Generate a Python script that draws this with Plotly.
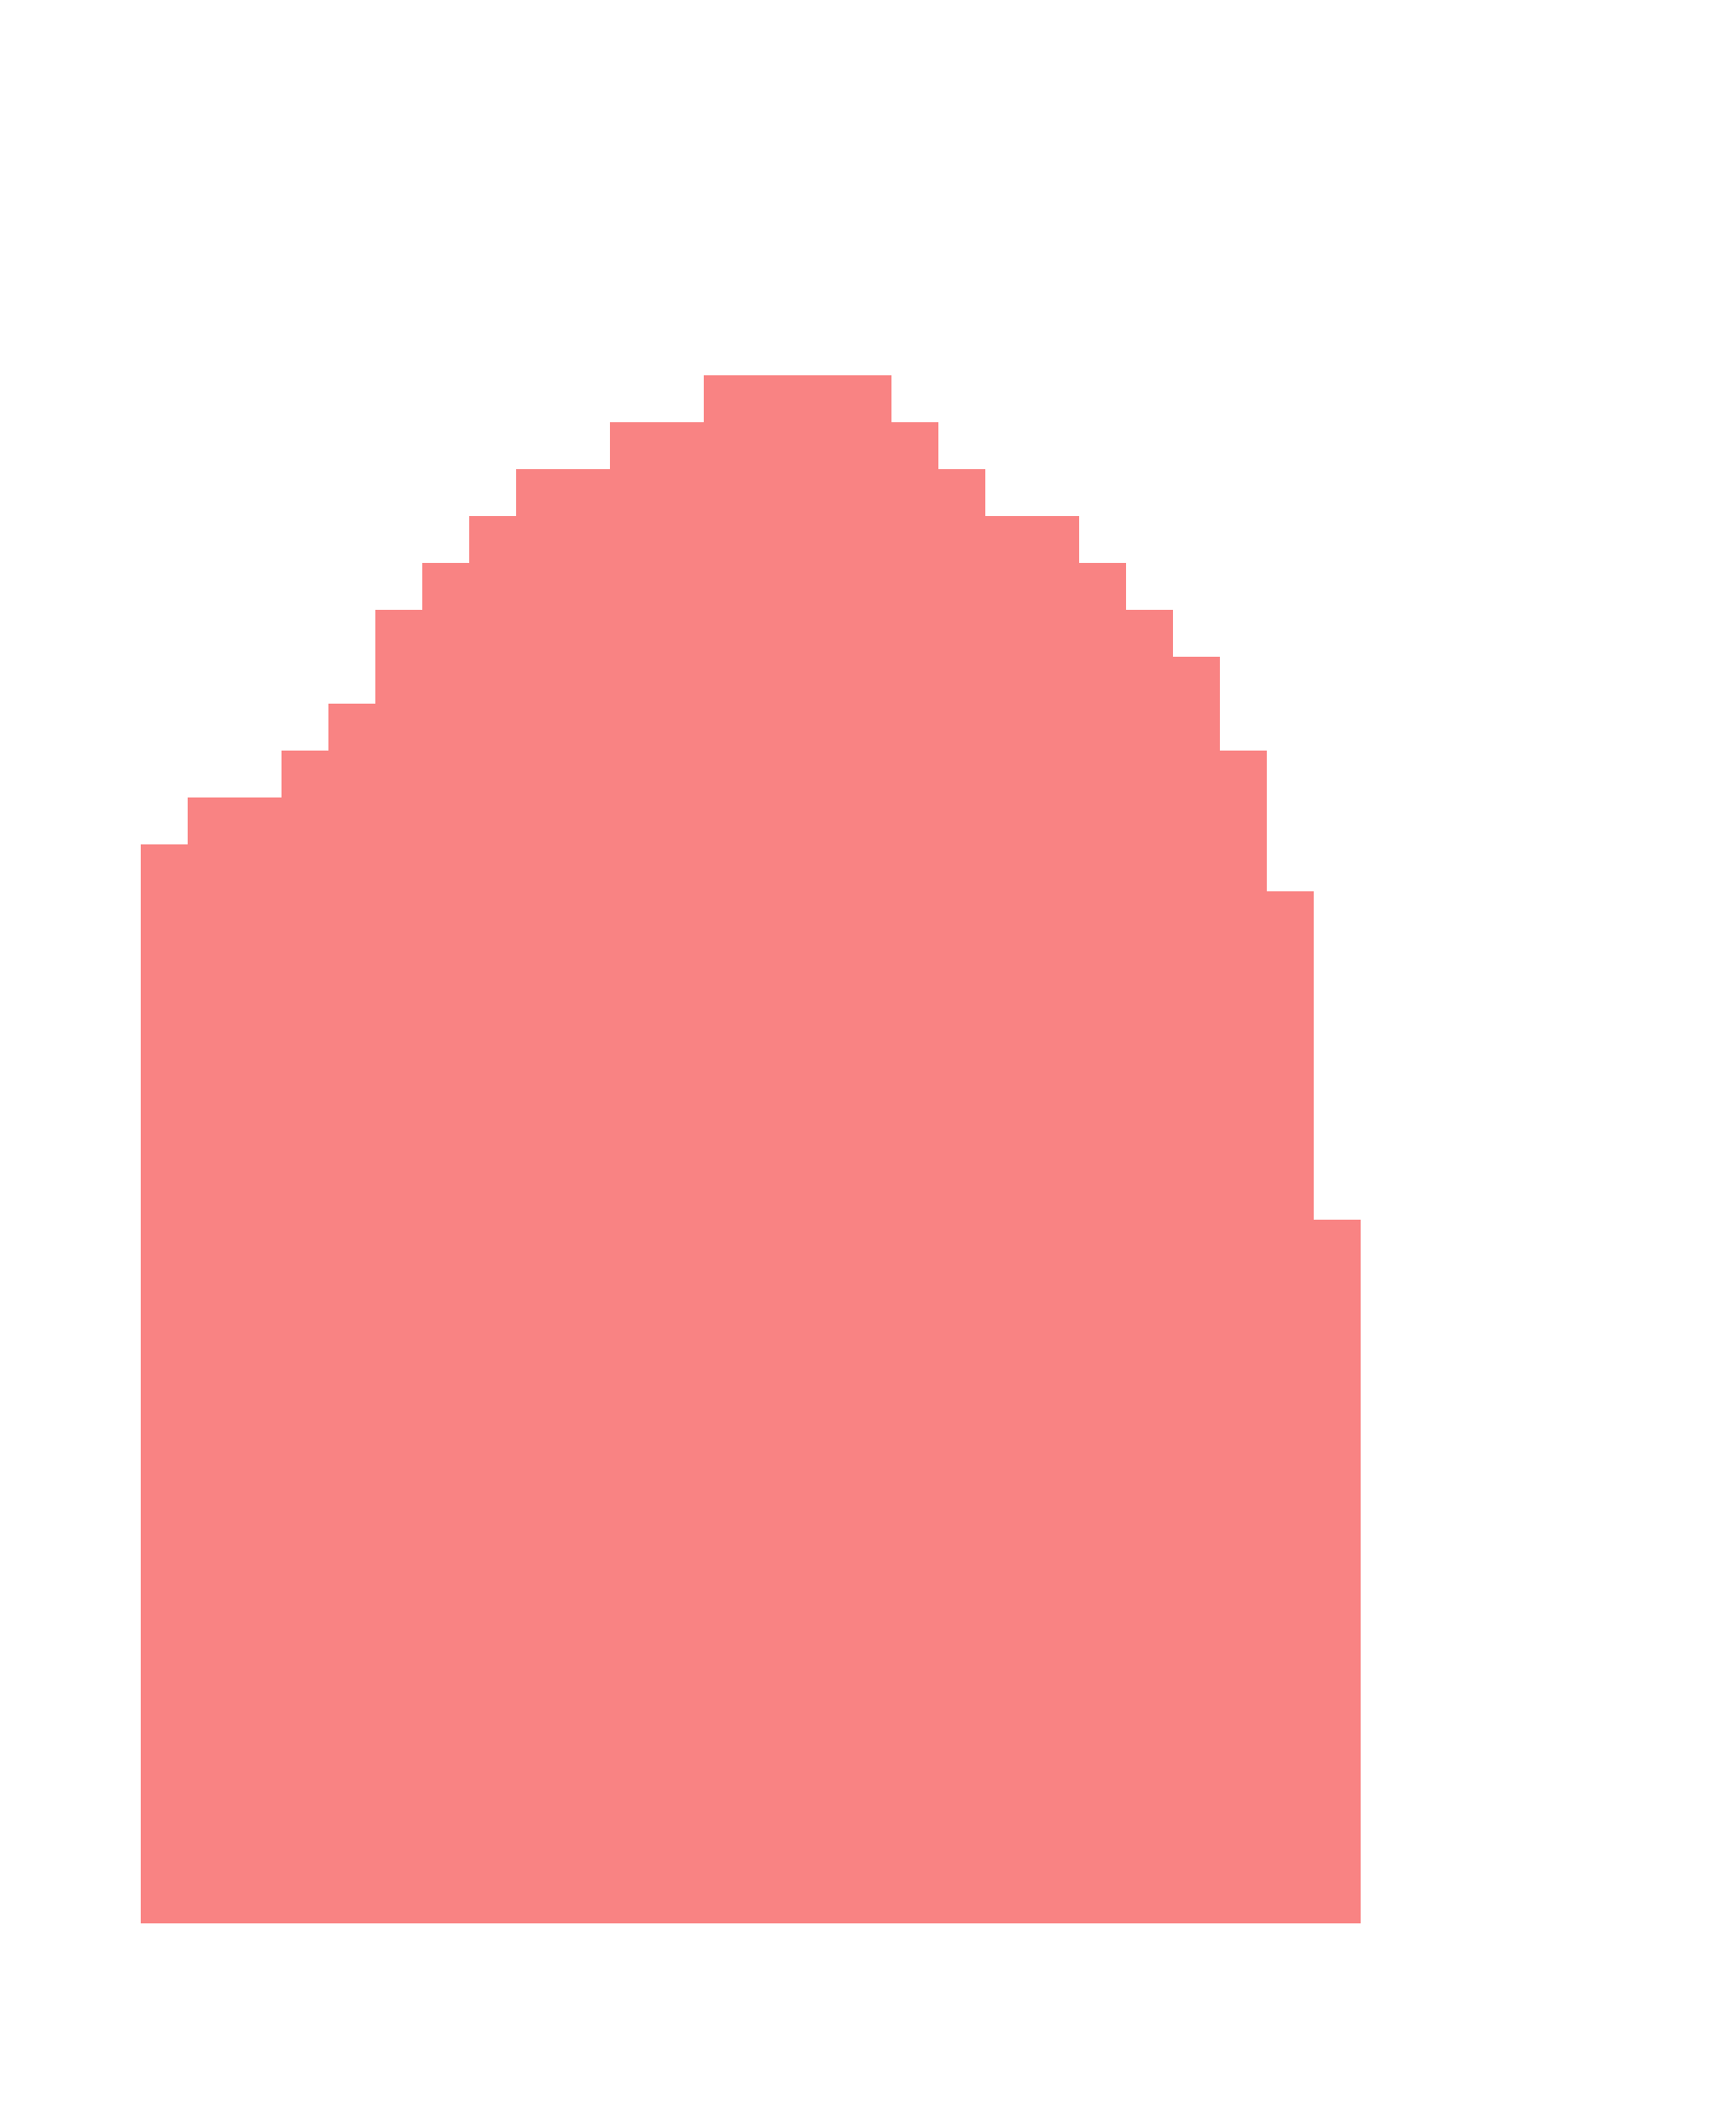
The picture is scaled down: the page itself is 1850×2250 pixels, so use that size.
import plotly.graph_objects as go

# Bin positions and counts
bins = list(range(26))
counts = [23, 24, 24, 25, 26, 28, 29, 30, 31, 31, 32, 32, 33,
          33, 33, 33, 32, 31, 30, 30, 29, 28, 27, 25, 22, 15]

fig = go.Figure(go.Bar(
    x=bins,
    y=counts,
    marker=dict(color='rgb(249,131,131)', line=dict(width=0)),
))

# page body adds an 8px offset, so margins are shifted to compensate
fig.update_layout(
    width=1850,
    height=2250,
    bargap=0,
    showlegend=False,
    paper_bgcolor='white',
    plot_bgcolor='white',
    margin=dict(l=142, r=408, t=392, b=208),
)
fig.update_xaxes(range=[-0.5, 25.5], visible=False)
fig.update_yaxes(range=[0, 33], visible=False)

fig.write_html("out.html")
